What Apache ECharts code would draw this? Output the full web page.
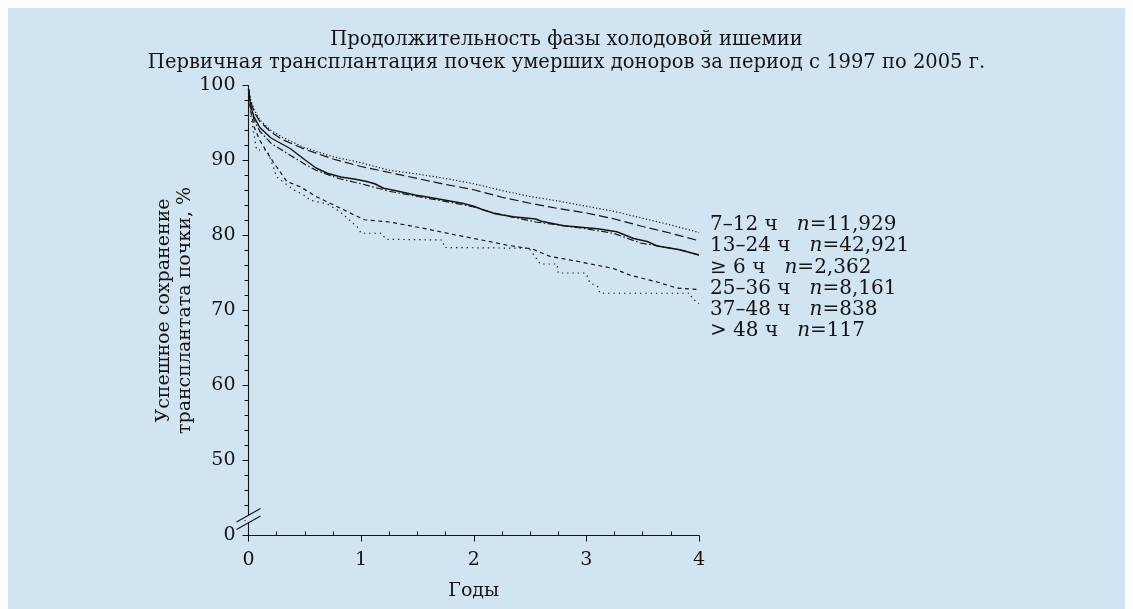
<!DOCTYPE html>
<html><head><meta charset="utf-8">
<script src="https://cdn.jsdelivr.net/npm/echarts@6/dist/echarts.min.js"></script>
<style>html,body{margin:0;padding:0;background:#fff}#c{width:1133px;height:609px}</style>
</head><body><div id="c"></div>
<script>
const titleText = 'Продолжительность фазы холодовой ишемии\nПервичная трансплантация почек умерших доноров за период с 1997 по 2005 г.';
const xName = 'Годы';
const yName = 'Успешное сохранение\nтрансплантата почки, %';
const xTicks = [0, 1, 2, 3, 4];
const yTicks = [40, 50, 60, 70, 80, 90, 100];
const yTickLabels = ['0', '50', '60', '70', '80', '90', '100'];

const groupNames = ['7–12 ч', '13–24 ч', '≥ 6 ч', '25–36 ч', '37–48 ч', '> 48 ч'];
const groupN = ['11,929', '42,921', '2,362', '8,161', '838', '117'];

const h7_12 = [[0,99.5],[0.02,98],[0.05,96.8],[0.1,95.4],[0.2,94.0],[0.3,93.1],[0.5,91.7],[0.75,90.5],[1.0,89.7],[1.25,88.7],[1.5,88.2],[1.75,87.6],[2.0,86.9],[2.25,86.0],[2.5,85.2],[2.75,84.6],[3.0,83.9],[3.25,83.2],[3.5,82.3],[3.75,81.4],[4.0,80.4]];
const h13_24 = [[0,99.5],[0.02,97.8],[0.05,96.5],[0.1,95.2],[0.2,93.8],[0.3,92.8],[0.5,91.5],[0.75,90.2],[1.0,89.2],[1.25,88.4],[1.5,87.6],[1.75,86.8],[2.0,86.1],[2.25,85.1],[2.5,84.3],[2.75,83.6],[3.0,83.0],[3.25,82.2],[3.5,81.2],[3.75,80.3],[4.0,79.3]];
const h6 = [[0,99.5],[0.02,97.2],[0.05,95.8],[0.1,94.4],[0.2,93.0],[0.37,91.6],[0.5,90.1],[0.6,89.0],[0.7,88.3],[0.82,87.8],[0.95,87.5],[1.05,87.2],[1.12,86.9],[1.2,86.3],[1.3,86.0],[1.48,85.4],[1.6,85.1],[1.75,84.7],[1.9,84.3],[2.0,83.9],[2.07,83.5],[2.19,82.9],[2.35,82.5],[2.55,82.2],[2.6,81.9],[2.8,81.3],[3.1,80.9],[3.27,80.5],[3.42,79.6],[3.54,79.2],[3.63,78.6],[3.83,78.1],[4.0,77.4]];
const h25_36 = [[0,99.5],[0.02,97],[0.05,95.4],[0.1,93.9],[0.2,92.3],[0.37,90.7],[0.5,89.5],[0.6,88.7],[0.8,87.6],[1.0,86.9],[1.25,85.9],[1.5,85.2],[1.8,84.4],[2.0,83.8],[2.13,83.2],[2.3,82.6],[2.55,81.8],[2.75,81.4],[2.95,81.0],[3.24,80.3],[3.35,79.7],[3.48,79.0],[3.68,78.5],[3.85,78.0],[4.0,77.4]];
const h37_48 = [[0,99.5],[0.02,96.5],[0.05,94.5],[0.1,92.7],[0.16,91.2],[0.22,89.8],[0.28,88.5],[0.34,87.2],[0.46,86.5],[0.6,85.2],[0.78,83.9],[0.93,82.8],[1.03,82.1],[1.25,81.8],[1.54,81.0],[1.83,80.1],[2.07,79.4],[2.3,78.7],[2.52,78.2],[2.68,77.2],[2.94,76.5],[3.24,75.6],[3.39,74.7],[3.63,73.8],[3.8,73.0],[4.0,72.8]];
const h48 = [[0,99.5],[0.02,96],[0.043,94],[0.06,92.5],[0.072,91.4],[0.16,91.4],[0.2,90],[0.22,89.2],[0.25,87.8],[0.32,87],[0.4,86.1],[0.49,85.4],[0.55,84.7],[0.7,84.2],[0.81,83.2],[0.93,81.6],[0.96,81.3],[1.0,80.3],[1.18,80.3],[1.22,79.5],[1.72,79.4],[1.74,78.4],[2.49,78.3],[2.54,77.3],[2.59,76.2],[2.74,76.2],[2.75,75.0],[2.99,75.0],[3.01,74.5],[3.03,73.7],[3.1,73.2],[3.12,72.3],[3.92,72.3],[3.94,71.6],[4.0,70.9]];

const seriesData = [h7_12, h13_24, h6, h25_36, h37_48, h48];
const dashes = [[1.2,2.2],[9,4],'solid',[7,2.5,1.5,2.5],[4,3.5],[1.3,4]];

const FONT = 'DejaVu Serif';
const INK = '#141414';
const BG = '#d1e4f2';

const chart = echarts.init(document.getElementById('c'), null, {renderer: 'canvas'});

const labelY0 = 225, labelStep = 21.2;
const labelGraphics = groupNames.map((g, i) => ({
  type: 'text', id: 'lab' + i, x: 710, y: labelY0 + i * labelStep, z: 10,
  style: {
    text: g + '   {n|n}=' + groupN[i],
    fontFamily: FONT, fontSize: 20, fill: INK, verticalAlign: 'middle',
    rich: {n: {fontStyle: 'italic', fontFamily: FONT, fontSize: 20, fill: INK}}
  }
}));

chart.setOption({
  backgroundColor: '#ffffff',
  animation: false,
  title: {
    text: titleText, left: 'center', top: 23,
    textStyle: {fontFamily: FONT, fontSize: 19.5, fontWeight: 'normal', color: INK, lineHeight: 23}
  },
  grid: {left: 248.5, top: 85.5, right: 434, bottom: 73.5, containLabel: false},
  xAxis: {
    type: 'value', min: 0, max: 4, interval: 1,
    name: xName, nameLocation: 'middle', nameGap: 46,
    nameTextStyle: {fontFamily: FONT, fontSize: 19, color: INK},
    axisLine: {show: true, lineStyle: {color: INK, width: 1.1}},
    axisTick: {show: true, length: 6, lineStyle: {color: INK}},
    minorTick: {show: true, splitNumber: 4, length: -4, lineStyle: {color: INK}},
    splitLine: {show: false},
    axisLabel: {fontFamily: FONT, fontSize: 19, color: INK, margin: 15, formatter: v => xTicks.includes(v) ? String(v) : ''}
  },
  yAxis: {
    type: 'value', min: 40, max: 100, interval: 10,
    name: yName, nameLocation: 'middle', nameGap: 52, nameRotate: 90,
    nameTextStyle: {fontFamily: FONT, fontSize: 19, color: INK, lineHeight: 21},
    axisLine: {show: true, lineStyle: {color: INK, width: 1.1}},
    axisTick: {show: true, length: 6, lineStyle: {color: INK}},
    minorTick: {show: true, splitNumber: 5, length: 4, lineStyle: {color: INK}},
    splitLine: {show: false},
    axisLabel: {fontFamily: FONT, fontSize: 19, color: INK, margin: 13,
      formatter: v => { const k = yTicks.indexOf(v); return k >= 0 ? yTickLabels[k] : ''; }}
  },
  series: seriesData.map((d, i) => ({
    type: 'line', name: groupNames[i], data: d, showSymbol: false, symbol: 'none',
    smooth: false, z: 3,
    lineStyle: {color: INK, width: i === 2 ? 1.4 : 1.2, type: dashes[i]}
  })),
  graphic: [
    {type: 'rect', id: 'bg', z: -100, silent: true, shape: {x: 8, y: 8, width: 1117, height: 601}, style: {fill: BG}}
  ].concat(labelGraphics)
});

// axis break marks near the bottom of the y axis
const p = chart.convertToPixel({xAxisIndex: 0, yAxisIndex: 0}, [0, 42.2]);
const bx = p[0], by = p[1];
const dx = 12, dy = 6.7, off = 3.8;
chart.setOption({
  graphic: [
    {type: 'polygon', id: 'brkbg', z: 5, silent: true,
      shape: {points: [[bx - 3, by - off + 1.7], [bx + 3, by - off - 1.7], [bx + 3, by + off - 1.7], [bx - 3, by + off + 1.7]]},
      style: {fill: BG}},
    {type: 'line', id: 'brk1', z: 6, silent: true,
      shape: {x1: bx - dx, y1: by - off + dy, x2: bx + dx, y2: by - off - dy}, style: {stroke: INK, lineWidth: 1.1}},
    {type: 'line', id: 'brk2', z: 6, silent: true,
      shape: {x1: bx - dx, y1: by + off + dy, x2: bx + dx, y2: by + off - dy}, style: {stroke: INK, lineWidth: 1.1}}
  ]
});
</script></body></html>
